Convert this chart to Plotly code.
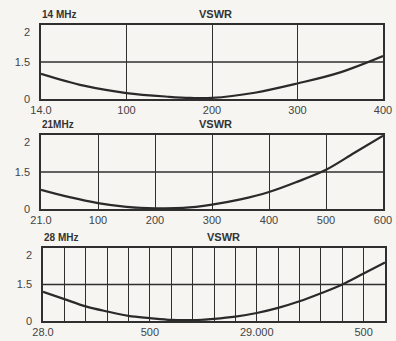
import plotly.graph_objects as go

# ---- data (x: kHz above band start, y: position on VSWR scale, 0..1 of frame) ----
f14 = [0, 50, 100, 150, 175, 200, 250, 300, 350, 400]
v14 = [0.34, 0.18, 0.08, 0.03, 0.015, 0.015, 0.085, 0.21, 0.36, 0.58]
x14_ticks = [0, 100, 200, 300, 400]
x14_labels = ["14.0", "100", "200", "300", "400"]

f21 = [0, 50, 100, 150, 200, 250, 300, 350, 400, 450, 500, 550, 600]
v21 = [0.26, 0.16, 0.08, 0.03, 0.01, 0.015, 0.06, 0.13, 0.23, 0.37, 0.53, 0.76, 0.99]
x21_ticks = [0, 100, 200, 300, 400, 500, 600]
x21_labels = ["21.0", "100", "200", "300", "400", "500", "600"]

f28 = [0, 100, 200, 300, 400, 500, 600, 700, 800, 900, 1000, 1100, 1200, 1300, 1400, 1500, 1600]
v28 = [0.40, 0.30, 0.20, 0.13, 0.07, 0.04, 0.015, 0.012, 0.03, 0.06, 0.11, 0.18, 0.27, 0.38, 0.50, 0.65, 0.80]
x28_ticks = list(range(0, 1700, 100))
x28_labels = ["28.0", "", "", "", "", "500", "", "", "", "", "29.000", "", "", "", "", "500", ""]

y_ticks = [0, 0.5, 0.9]
y_labels = ["0", "1.5", "2"]
band_names = ["14 MHz", "21MHz", "28 MHz"]

INK = "#2f2f2f"
BG = "#f6f5f1"
FONT = "Liberation Sans"

fig = go.Figure()

panels = [
    (f14, v14, x14_ticks, x14_labels, [41 / 396, 383 / 396], [1 - 99 / 341, 1 - 25 / 341], 400),
    (f21, v21, x21_ticks, x21_labels, [41 / 396, 383 / 396], [1 - 209 / 341, 1 - 135 / 341], 600),
    (f28, v28, x28_ticks, x28_labels, [43 / 396, 385 / 396], [1 - 321 / 341, 1 - 248 / 341], 1600),
]

for i, (fx, vy, xt, xl, xd, yd, xmax) in enumerate(panels, start=1):
    sfx = "" if i == 1 else str(i)
    fig.add_trace(go.Scatter(
        x=fx, y=vy, mode="lines", line=dict(color="#2a2a2a", width=2.2, shape="spline", smoothing=1.0),
        xaxis="x" + sfx, yaxis="y" + sfx, showlegend=False, hoverinfo="skip"))
    fig.layout["xaxis" + sfx] = dict(
        domain=xd, range=[0, xmax], anchor="y" + sfx, automargin=False,
        tickmode="array", tickvals=xt, ticktext=xl,
        showgrid=True, gridcolor=INK, gridwidth=1.4,
        showline=True, linecolor=INK, linewidth=1.6, mirror=True,
        zeroline=False, ticks="", ticklabelstandoff=0,
        tickfont=dict(family=FONT, size=11, color="#444"),
    )
    fig.layout["yaxis" + sfx] = dict(
        domain=yd, range=[0, 1], anchor="x" + sfx, automargin=False,
        tickmode="array", tickvals=y_ticks, ticktext=y_labels,
        showgrid=False, showline=True, linecolor=INK, linewidth=1.6, mirror=True,
        zeroline=False, ticks="", ticklabelstandoff=7,
        tickfont=dict(family=FONT, size=11, color="#444"),
    )
    # the single horizontal grid line at the "1.5" level
    fig.add_shape(type="line", xref=f"x{sfx} domain", yref="y" + sfx,
                  x0=0, x1=1, y0=y_ticks[1], y1=y_ticks[1],
                  line=dict(color=INK, width=1.4), layer="below")
    fig.add_annotation(text=band_names[i - 1], xref="paper", yref="paper",
                       x=xd[0] - 0.003, y=yd[1], xanchor="left", yanchor="bottom", yshift=3,
                       showarrow=False, font=dict(family=FONT, size=10, color="#333", weight="bold"))
    fig.add_annotation(text="VSWR", xref="paper", yref="paper",
                       x=(xd[0] + xd[1]) / 2 + 0.01 + (0.015 if i == 3 else 0), y=yd[1],
                       xanchor="center", yanchor="bottom", yshift=3,
                       showarrow=False, font=dict(family=FONT, size=11, color="#333", weight="bold"))

fig.update_layout(
    width=396, height=341, margin=dict(l=0, r=0, t=0, b=0),
    paper_bgcolor=BG, plot_bgcolor=BG,
)

fig.write_html("out.html", config={"displayModeBar": False},
               post_script="document.body.style.margin='0';document.body.style.background='%s';" % BG)
